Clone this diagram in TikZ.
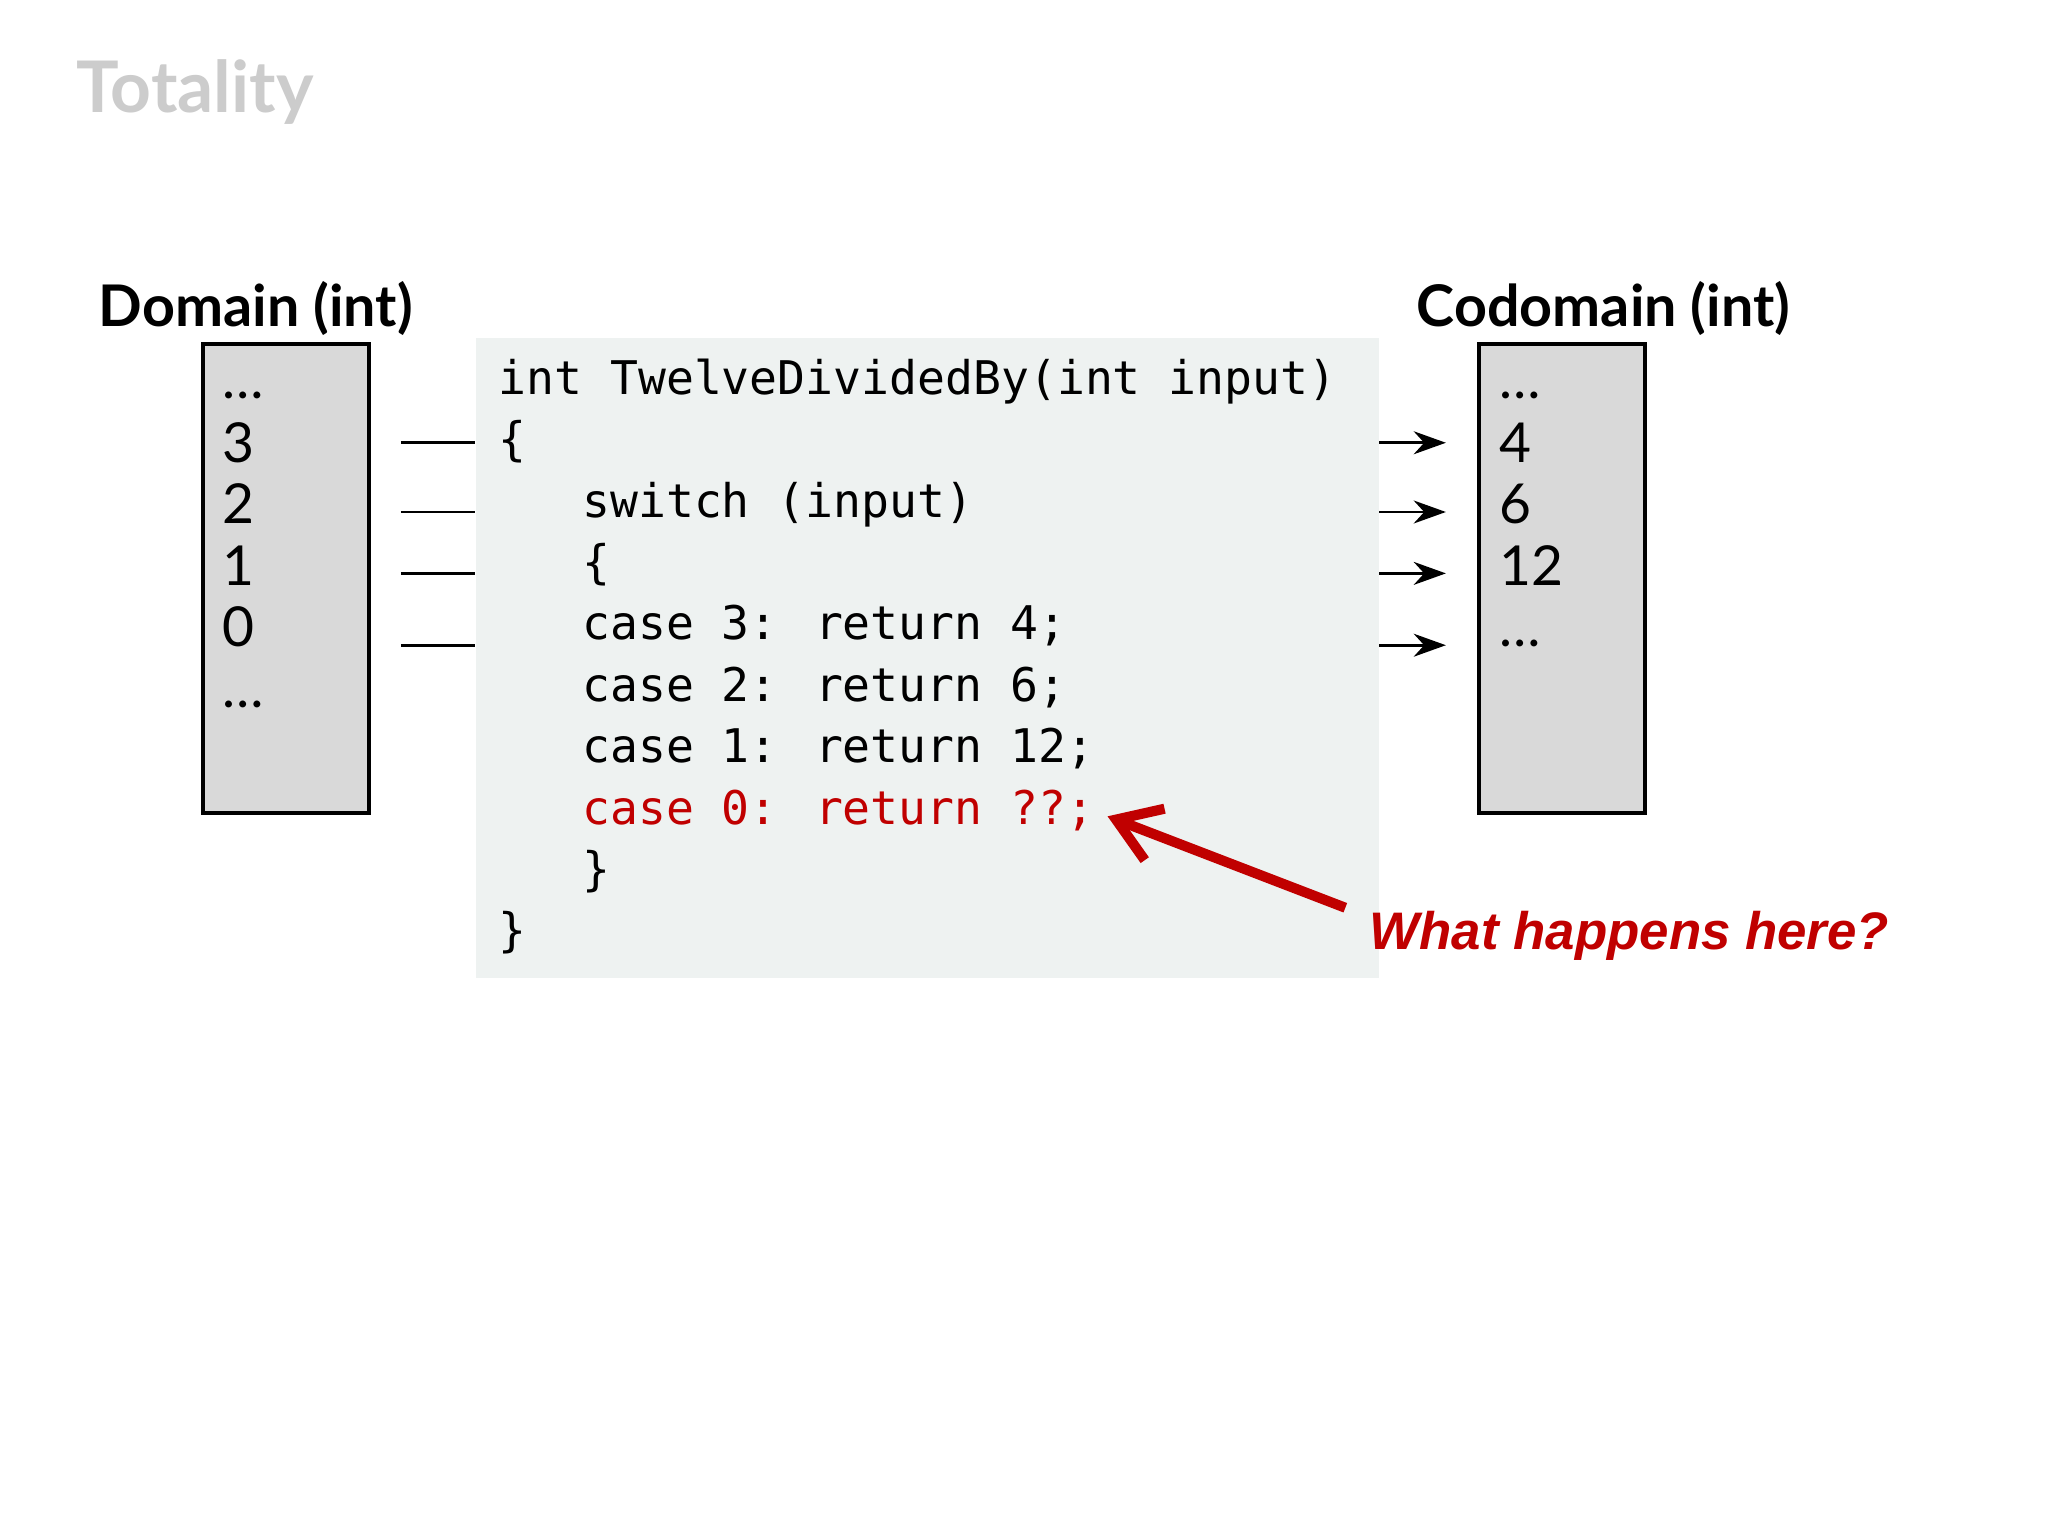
\documentclass[tikz,border=0pt]{standalone}
\usepackage{fontspec}
\setmainfont{Lato}
\newfontfamily\codefont{DejaVu Sans Mono}
\newfontfamily\handfont{Liberation Sans}
\usetikzlibrary{arrows.meta}
\definecolor{codebg}{HTML}{EEF2F1}
\definecolor{boxgray}{HTML}{D9D9D9}
\definecolor{darkred}{HTML}{C00000}
\tikzset{
  setbox/.style={draw=black, fill=boxgray, line width=0.8pt},
  item/.style={anchor=base west, font=\fontsize{12}{14}\selectfont, inner sep=0pt},
  head/.style={anchor=base west, font=\fontsize{12.5}{15}\selectfont\bfseries, inner sep=0pt},
  code/.style={anchor=base west, font=\codefont\fontsize{10.1}{13}\selectfont, inner sep=0pt},
  conn/.style={line width=0.6pt},
}
\begin{document}
\begin{tikzpicture}[x=0.01cm,y=-0.01cm]
\useasboundingbox[fill=white] (0,0) rectangle (1568,1176);
\node[anchor=base west, text=black!20, font=\fontsize{15.5}{18}\selectfont\bfseries, inner sep=0pt] (title) at (58,86) {Totality};
% boxes
\node[setbox, minimum width=1.27cm, minimum height=3.59cm, anchor=north west, inner sep=0pt] (dom) at (154,262) {};
\node[setbox, minimum width=1.27cm, minimum height=3.59cm, anchor=north west, inner sep=0pt] (cod) at (1131,262) {};
\node[fill=codebg, minimum width=6.91cm, minimum height=4.90cm, anchor=north west, inner sep=0pt] (codebox) at (364,258) {};
\node[head] (domh) at (75,250) {Domain (int)};
\node[head] (codh) at (1084,250) {Codomain (int)};
% domain items
\node[item] (d0) at (170,305) {\dots};
\node[item] (d1) at (170,354) {3};
\node[item] (d2) at (170,401) {2};
\node[item] (d3) at (170,448) {1};
\node[item] (d4) at (170,495) {0};
\node[item] (d5) at (170,542) {\dots};
% codomain items
\node[item] (c0) at (1147,305) {\dots};
\node[item] (c1) at (1147,354) {4};
\node[item] (c2) at (1147,401) {6};
\node[item] (c3) at (1147,448) {12};
\node[item] (c4) at (1147,495) {\dots};
% code
\node[code] (l1) at (381,302) {int TwelveDividedBy(int input)};
\node[code] (l2) at (381,349) {\{};
\node[code] (l3) at (381,396) {\ \ \ switch (input)};
\node[code] (l4) at (381,443) {\ \ \ \{};
\node[code] (l5) at (381,490) {\ \ \ case 3: return 4;};
\node[code] (l6) at (381,537) {\ \ \ case 2: return 6;};
\node[code] (l7) at (381,584) {\ \ \ case 1: return 12;};
\node[code, text=darkred] (l8) at (381,631) {\ \ \ case 0: return ??;};
\node[code] (l9) at (381,678) {\ \ \ \}};
\node[code] (l10) at (381,725) {\}};
% connectors
\foreach \y [count=\i] in {339,392,439,494}{
  \coordinate (a\i) at (307,\y);
  \coordinate (b\i) at (364,\y);
  \coordinate (e\i) at (1056,\y);
  \coordinate (f\i) at (1107,\y);
  \draw[conn] (a\i) -- (b\i);
  \draw[conn, -{Stealth[length=7pt,width=5pt]}] (e\i) -- (f\i);
}
\node[anchor=base west, text=darkred, font=\handfont\itshape\bfseries\fontsize{11.5}{14}\selectfont, inner sep=0pt] (note) at (1048,727) {What happens here?};
\coordinate (tip) at (848,625);
\coordinate (tail) at (1030,695);
\draw[darkred, line width=2.2pt, -{Straight Barb[length=9pt,width=12pt]}] (tail) -- (tip);
\end{tikzpicture}
\end{document}
